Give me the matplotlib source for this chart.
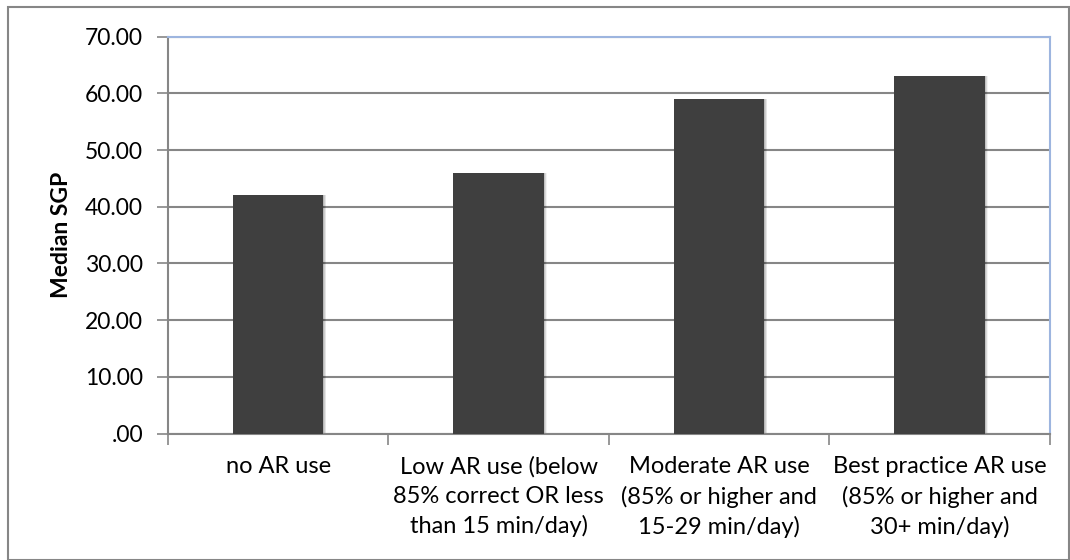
import matplotlib
matplotlib.use("Agg")
import matplotlib.pyplot as plt
from matplotlib.patches import Rectangle
from matplotlib.ticker import FixedLocator, FuncFormatter

# data
categories = [
    "no AR use",
    "Low AR use (below\n85% correct OR less\nthan 15 min/day)",
    "Moderate AR use\n(85% or higher and\n15-29 min/day)",
    "Best practice AR use\n(85% or higher and\n30+ min/day)",
]
median_sgp = [42, 46, 59, 63]
y_ticks = [0, 10, 20, 30, 40, 50, 60, 70]

plt.rcParams["font.family"] = ["Lato", "DejaVu Sans"]

fig = plt.figure(figsize=(10.7, 5.6), dpi=100)
ax = fig.add_axes([0.157, 0.2257, 0.824, 0.709])

x = list(range(len(categories)))
width = 0.41

# soft shadow to the right of each bar
for i in range(1, 7):
    ax.bar([xi + 0.0022 * i for xi in x], median_sgp, width=width,
           color="black", alpha=0.05, zorder=2, linewidth=0)
ax.bar(x, median_sgp, width=width, color="#3F3F3F", zorder=3, linewidth=0)

ax.set_xlim(-0.5, len(categories) - 0.5)
ax.set_ylim(0, 70)

ax.yaxis.set_major_locator(FixedLocator(y_ticks))
ax.yaxis.set_major_formatter(FuncFormatter(lambda v, p: ".00" if v == 0 else f"{v:.2f}"))
ax.grid(axis="y", color="#868686", linewidth=1.5, zorder=1)

# category boundary ticks on x axis
ax.set_xticks([i - 0.5 for i in range(len(categories) + 1)])
ax.set_xticklabels([])
ax.set_xticks(x, minor=True)
ax.set_xticklabels(categories, minor=True, fontsize=17, linespacing=1.48)
ax.tick_params(axis="x", which="minor", length=0, pad=16)
ax.tick_params(axis="x", which="major", length=8, width=1.2, color="#868686")
ax.tick_params(axis="y", length=8, width=1.2, color="#868686", labelsize=16.5, pad=10)

for s in ["left", "bottom"]:
    ax.spines[s].set_color("#868686")
    ax.spines[s].set_linewidth(1.5)
for s in ["top", "right"]:
    ax.spines[s].set_color("#9DB5DF")
    ax.spines[s].set_linewidth(1.5)

ax.set_ylabel("Median SGP", fontsize=16.5, fontweight="bold", labelpad=9)

# outer chart border
fig.patches.append(Rectangle((8 / 1070, 0.0), 1061 / 1070, 553 / 560,
                             transform=fig.transFigure, fill=False,
                             edgecolor="#868686", linewidth=1.5))

fig.savefig("out.png", dpi=100)
